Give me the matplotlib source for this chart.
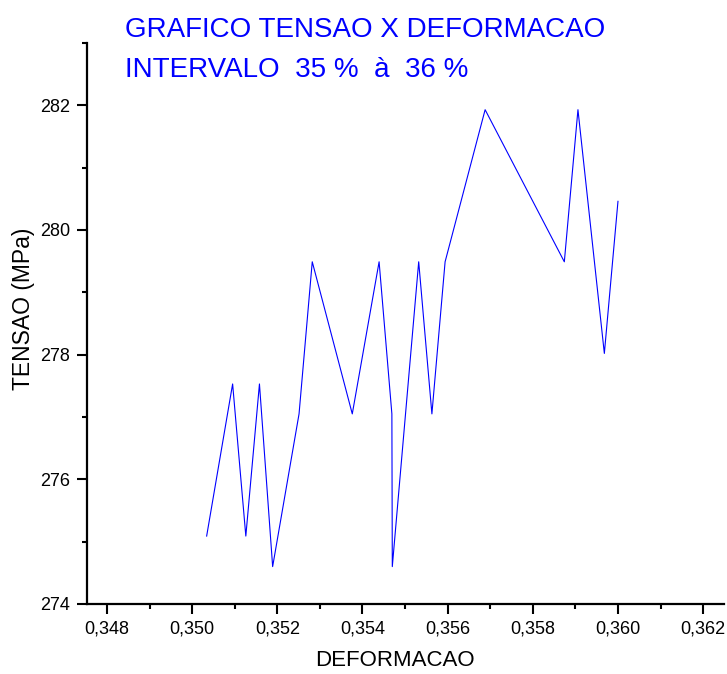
import matplotlib
matplotlib.use("Agg")
import matplotlib.pyplot as plt
from matplotlib.ticker import MultipleLocator, FuncFormatter

plt.rcParams['font.family'] = ['Liberation Sans', 'DejaVu Sans']

# deformacao (strain) and tensao (stress, MPa)
deformacao = [0.35034, 0.35095, 0.35126, 0.35158, 0.35189, 0.35251, 0.35282,
              0.35376, 0.35439, 0.35469, 0.35470, 0.35532, 0.35563, 0.35594,
              0.35688, 0.35874, 0.35906, 0.35968, 0.36000]
tensao = [275.09, 277.53, 275.09, 277.53, 274.60, 277.05, 279.49,
          277.05, 279.49, 277.05, 274.60, 279.49, 277.05, 279.49,
          281.93, 279.49, 281.93, 278.02, 280.46]

titulo1 = "GRAFICO TENSAO X DEFORMACAO"
titulo2 = "INTERVALO  35 %  à  36 %"

fig = plt.figure(figsize=(7.27, 6.74), dpi=100)
ax = fig.add_axes([87 / 727, 70 / 674, 637 / 727, 561 / 674])

ax.plot(deformacao, tensao, color='#0000ff', lw=0.8)

ax.set_xlim(0.34753, 0.36249)
ax.set_ylim(274, 283)

ax.xaxis.set_major_locator(MultipleLocator(0.002))
ax.xaxis.set_minor_locator(MultipleLocator(0.001))
ax.yaxis.set_major_locator(MultipleLocator(2))
ax.yaxis.set_minor_locator(MultipleLocator(1))
ax.xaxis.set_major_formatter(FuncFormatter(lambda v, p: f"{v:.3f}".replace('.', ',')))
ax.yaxis.set_major_formatter(FuncFormatter(lambda v, p: f"{v:.0f}"))

for s in ['top', 'right']:
    ax.spines[s].set_visible(False)
for s in ['left', 'bottom']:
    ax.spines[s].set_linewidth(1.6)

ax.tick_params(which='major', direction='out', length=7, width=1.5, labelsize=13, pad=5)
ax.tick_params(which='minor', direction='out', length=3.5, width=1.5)

ax.set_xlabel("DEFORMACAO", fontsize=16)
ax.xaxis.set_label_coords(0.484, -0.082)
ax.set_ylabel("TENSAO (MPa)", fontsize=16.5)
ax.yaxis.set_label_coords(-0.081, 0.527)

fig.text(125 / 727, 1 - 36.7 / 674, titulo1, color='#0000ff', fontsize=20, va='baseline')
fig.text(125 / 727, 1 - 76.7 / 674, titulo2, color='#0000ff', fontsize=20, va='baseline')

fig.savefig("out.png", dpi=100)
